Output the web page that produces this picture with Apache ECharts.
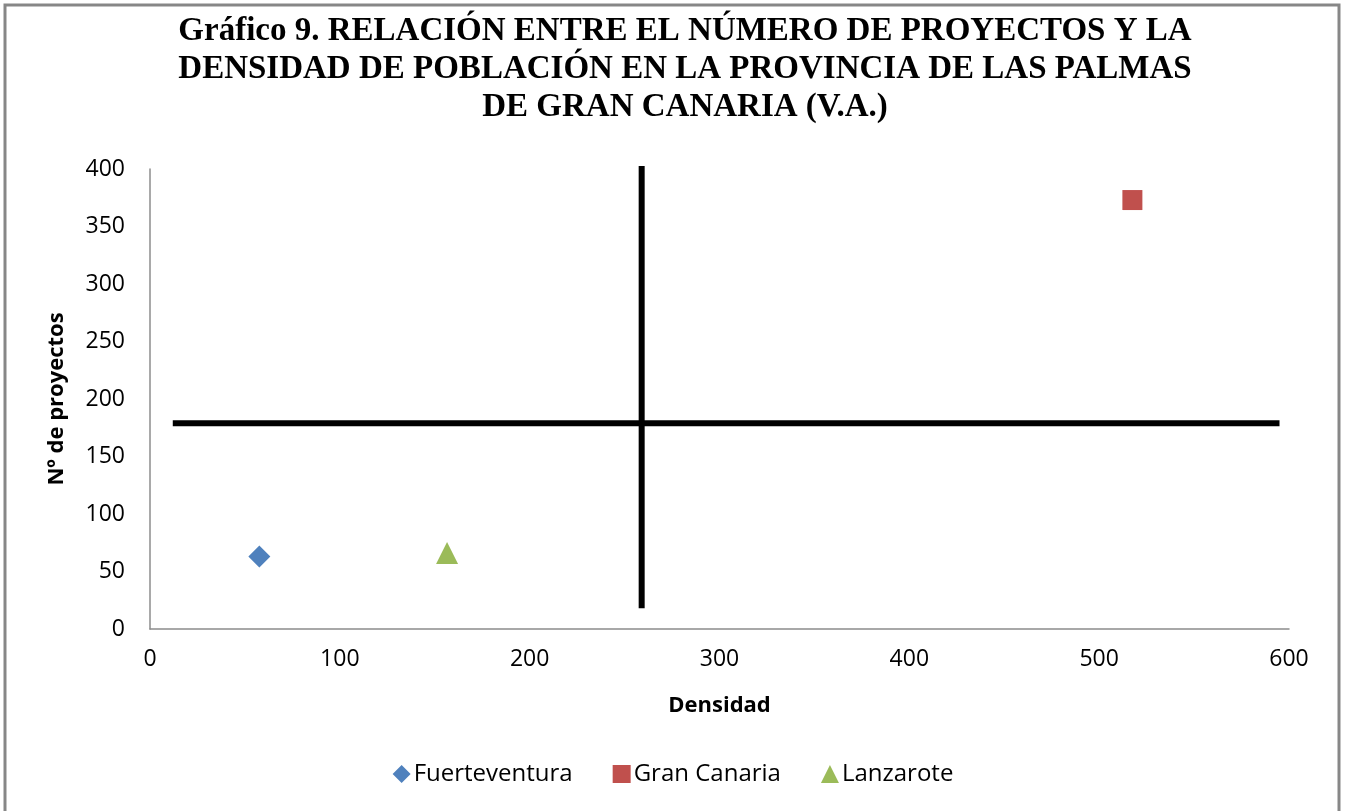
<!DOCTYPE html>
<html>
<head>
<meta charset="utf-8">
<title>Gráfico 9</title>
<script src="https://cdn.jsdelivr.net/npm/echarts@6/dist/echarts.min.js"></script>
<style>
  html, body { margin: 0; padding: 0; background: #ffffff; }
  #chart { width: 1346px; height: 811px; }
</style>
</head>
<body>
<div id="chart"></div>
<script>
// Densidad (hab/km²) y número de proyectos por isla
const islands = ['Fuerteventura', 'Gran Canaria', 'Lanzarote'];
const density = [57.6, 517.5, 156.5];
const projects = [63, 373, 66];
const islandColors = ['#4F81BD', '#C0504D', '#9BBB59'];
const islandSymbols = ['diamond', 'rect', 'triangle'];

// Líneas de referencia que dividen el gráfico en cuadrantes
const verticalRef = [[259, 18], [259, 403]];
const horizontalRef = [[12, 179], [595, 179]];

const xTicks = { min: 0, max: 600, interval: 100 };
const yTicks = { min: 0, max: 400, interval: 50 };

const titleText = 'Gráfico 9. RELACIÓN ENTRE EL NÚMERO DE PROYECTOS Y LA\nDENSIDAD DE POBLACIÓN EN LA PROVINCIA DE LAS PALMAS\nDE GRAN CANARIA (V.A.)';

const sansFont = '"Open Sans", "Liberation Sans", sans-serif';

const chart = echarts.init(document.getElementById('chart'), null, { renderer: 'canvas' });

const pointSeries = islands.map((name, i) => ({
  name: name,
  type: 'scatter',
  symbol: islandSymbols[i],
  symbolSize: islandSymbols[i] === 'rect' ? 20 : 22,
  itemStyle: { color: islandColors[i], opacity: 1 },
  data: [[density[i], projects[i]]],
  z: 5
}));

const refLine = (data) => ({
  type: 'line',
  data: data,
  symbol: 'none',
  silent: true,
  lineStyle: { color: '#000000', width: 6, cap: 'butt' },
  z: 3
});

chart.setOption({
  animation: false,
  backgroundColor: '#ffffff',
  graphic: [{
    type: 'rect',
    shape: { x: 5, y: 5, width: 1334, height: 820 },
    style: { fill: 'none', stroke: '#878787', lineWidth: 3 },
    silent: true,
    z: 0
  }],
  title: {
    text: titleText,
    left: 680,
    textAlign: 'center',
    top: 7,
    textStyle: {
      fontFamily: '"Liberation Serif", "Times New Roman", serif',
      fontWeight: 'bold',
      fontSize: 33,
      lineHeight: 38,
      color: '#000000'
    }
  },
  legend: {
    data: islands,
    bottom: 20,
    left: 'center',
    itemWidth: 18,
    itemHeight: 18,
    itemGap: 40,
    textStyle: { fontFamily: sansFont, fontSize: 24, color: '#000000', padding: [0, 0, 0, -2] }
  },
  grid: { left: 150, right: 57, top: 169, bottom: 182 },
  xAxis: {
    type: 'value',
    min: xTicks.min,
    max: xTicks.max,
    interval: xTicks.interval,
    name: 'Densidad',
    nameLocation: 'middle',
    nameGap: 66,
    nameTextStyle: { fontFamily: sansFont, fontWeight: 'bold', fontSize: 22, color: '#000000' },
    axisLine: { show: true, lineStyle: { color: '#8c8c8c', width: 1.5 } },
    axisTick: { show: false },
    splitLine: { show: false },
    axisLabel: { fontFamily: sansFont, fontSize: 23, color: '#000000', margin: 19 }
  },
  yAxis: {
    type: 'value',
    min: yTicks.min,
    max: yTicks.max,
    interval: yTicks.interval,
    name: 'Nº de proyectos',
    nameLocation: 'middle',
    nameGap: 82,
    nameRotate: 90,
    nameTextStyle: { fontFamily: sansFont, fontWeight: 'bold', fontSize: 22, color: '#000000' },
    axisLine: { show: true, lineStyle: { color: '#8c8c8c', width: 1.5 } },
    axisTick: { show: false },
    splitLine: { show: false },
    axisLabel: { fontFamily: sansFont, fontSize: 23, color: '#000000', margin: 25 }
  },
  series: [refLine(verticalRef), refLine(horizontalRef)].concat(pointSeries)
});
</script>
</body>
</html>
